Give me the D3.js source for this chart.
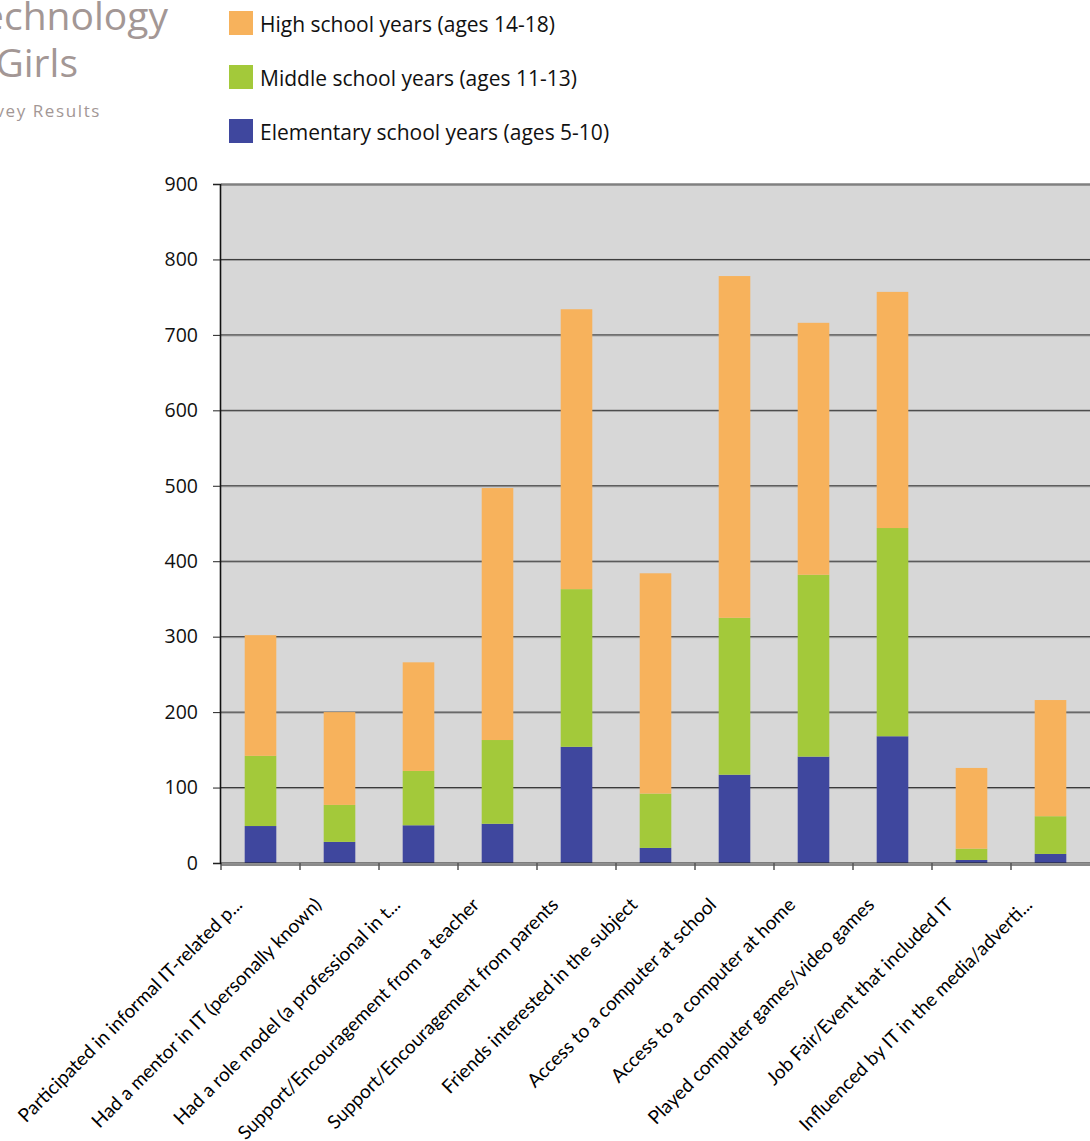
<!DOCTYPE html>
<html>
<head>
<meta charset="utf-8">
<script src="https://cdn.jsdelivr.net/npm/d3@7"></script>
<style>
  body { margin: 0; background: #fff; }
  svg { display: block; }
</style>
</head>
<body>
<div id="chart"></div>
<script>

// categories along the x axis (already truncated as in the source chart)
const categories = [
    "Participated in informal IT-related p...",
    "Had a mentor in IT (personally known)",
    "Had a role model (a professional in t...",
    "Support/Encouragement from a teacher",
    "Support/Encouragement from parents",
    "Friends interested in the subject",
    "Access to a computer at school",
    "Access to a computer at home",
    "Played computer games/video games",
    "Job Fair/Event that included IT",
    "Influenced by IT in the media/adverti..."
];

const elementary = [49, 28, 50, 52, 154, 20, 117, 141, 168, 4, 12];
const middle = [93, 49, 72, 111, 209, 72, 208, 241, 276, 15, 50];
const high = [160, 123, 144, 334, 371, 292, 453, 334, 313, 107, 154];

const seriesNames = ["High school years (ages 14-18)", "Middle school years (ages 11-13)", "Elementary school years (ages 5-10)"];
const yTicks = [0, 100, 200, 300, 400, 500, 600, 700, 800, 900];

var width = 1090,
    height = 1141;

var colors = {
    elementary: '#3f479e',
    middle: '#a3c93a',
    high: '#f7b25c'
};

var svg = d3.select('#chart')
    .append('svg')
    .attr('width', width)
    .attr('height', height);

// title (cut off at the left edge of the page, as in the source)
var titleColor = '#a39795';
svg.append('text')
    .attr('x', 168).attr('y', 30)
    .attr('text-anchor', 'end')
    .style('font-family', '"Open Sans", sans-serif')
    .style('font-size', '39px')
    .style('fill', titleColor)
    .text('Technology');
svg.append('text')
    .attr('x', 78).attr('y', 77)
    .attr('text-anchor', 'end')
    .style('font-family', '"Open Sans", sans-serif')
    .style('font-size', '39px')
    .style('fill', titleColor)
    .text('Girls');
svg.append('text')
    .attr('x', 101).attr('y', 117)
    .attr('text-anchor', 'end')
    .style('font-family', '"Open Sans", sans-serif')
    .style('font-size', '17px')
    .style('letter-spacing', '1.6px')
    .style('fill', titleColor)
    .text('Survey Results');

// scales
var yScale = d3.scaleLinear()
    .domain([0, 900])
    .range([863, 184]);

var xScale = d3.scaleBand()
    .domain(categories)
    .range([221, 1090])
    .paddingInner(0.6)
    .paddingOuter(0.3);

// plot background
svg.append('rect')
    .attr('x', 221)
    .attr('y', yScale(900))
    .attr('width', 1090 - 221)
    .attr('height', yScale(0) - yScale(900))
    .attr('fill', '#d7d7d7');

// gridlines
var grid = svg.append('g');
grid.selectAll('line.shade')
    .data(yTicks.filter(d => d > 0 && d < 900))
    .enter()
    .append('line')
    .attr('x1', 221).attr('x2', 1090)
    .attr('y1', d => yScale(d) + 1).attr('y2', d => yScale(d) + 1)
    .attr('stroke', '#9c9c9c')
    .attr('stroke-width', 1);
grid.selectAll('line.main')
    .data(yTicks.filter(d => d > 0 && d < 900))
    .enter()
    .append('line')
    .attr('x1', 221).attr('x2', 1090)
    .attr('y1', d => yScale(d)).attr('y2', d => yScale(d))
    .attr('stroke', '#333')
    .attr('stroke-width', 1);

// top border
svg.append('line')
    .attr('x1', 221).attr('x2', 1090)
    .attr('y1', yScale(900) + 0.5).attr('y2', yScale(900) + 0.5)
    .attr('stroke', '#808080')
    .attr('stroke-width', 2.5);

// stacked data
var table = categories.map((c, i) => ({
    category: c,
    elementary: elementary[i],
    middle: middle[i],
    high: high[i]
}));

var stack = d3.stack().keys(['elementary', 'middle', 'high']);
var layers = stack(table);

svg.append('g')
    .selectAll('g')
    .data(layers)
    .enter()
    .append('g')
    .attr('fill', d => colors[d.key])
    .selectAll('rect')
    .data(d => d)
    .enter()
    .append('rect')
    .attr('x', d => xScale(d.data.category))
    .attr('width', xScale.bandwidth())
    .attr('y', d => yScale(d[1]))
    .attr('height', d => yScale(d[0]) - yScale(d[1]));

// bottom axis line (double)
svg.append('line')
    .attr('x1', 221).attr('x2', 1090)
    .attr('y1', yScale(0) + 2).attr('y2', yScale(0) + 2)
    .attr('stroke', '#8a8a8a')
    .attr('stroke-width', 2);
svg.append('line')
    .attr('x1', 221).attr('x2', 1090)
    .attr('y1', yScale(0)).attr('y2', yScale(0))
    .attr('stroke', '#222')
    .attr('stroke-width', 1.2);

// x ticks between categories
var step = xScale.step();
var tickXs = categories.map(c => xScale(c) - step * xScale.paddingInner() / 2);
svg.selectAll('line.xtick')
    .data(tickXs)
    .enter()
    .append('line')
    .attr('x1', d => d).attr('x2', d => d)
    .attr('y1', yScale(0)).attr('y2', yScale(0) + 7)
    .attr('stroke', '#555')
    .attr('stroke-width', 1.5);

// y axis
var yAxis = svg.append('g')
    .attr('transform', 'translate(220,0)')
    .call(d3.axisLeft(yScale).tickValues(yTicks).tickSize(7).tickPadding(15));
yAxis.select('.domain')
    .attr('stroke', '#111')
    .attr('stroke-width', 1.6);
yAxis.selectAll('.tick line')
    .attr('stroke', '#222');
yAxis.selectAll('.tick text')
    .style('font-family', '"Open Sans", sans-serif')
    .style('font-size', '19.5px')
    .style('fill', '#111');

// x labels rotated
svg.append('g')
    .selectAll('text')
    .data(categories)
    .enter()
    .append('text')
    .attr('transform', d => {
        var cx = xScale(d) + xScale.bandwidth() / 2 - 17;
        return 'translate(' + cx + ',906) rotate(-45)';
    })
    .attr('text-anchor', 'end')
    .style('font-family', 'Lato, sans-serif')
    .style('font-size', '19px')
    .style('fill', '#000')
    .text(d => d);

// legend
var legendKeys = ['high', 'middle', 'elementary'];
var legend = svg.append('g')
    .selectAll('g')
    .data(legendKeys)
    .enter()
    .append('g')
    .attr('transform', (d, i) => 'translate(229,' + (11 + i * 54) + ')');

legend.append('rect')
    .attr('width', 24)
    .attr('height', 24)
    .attr('fill', d => colors[d]);

legend.append('text')
    .attr('x', 31)
    .attr('y', 21)
    .style('font-family', '"Open Sans", sans-serif')
    .style('font-size', '21px')
    .style('fill', '#111')
    .text((d, i) => seriesNames[i]);

</script>
</body>
</html>
